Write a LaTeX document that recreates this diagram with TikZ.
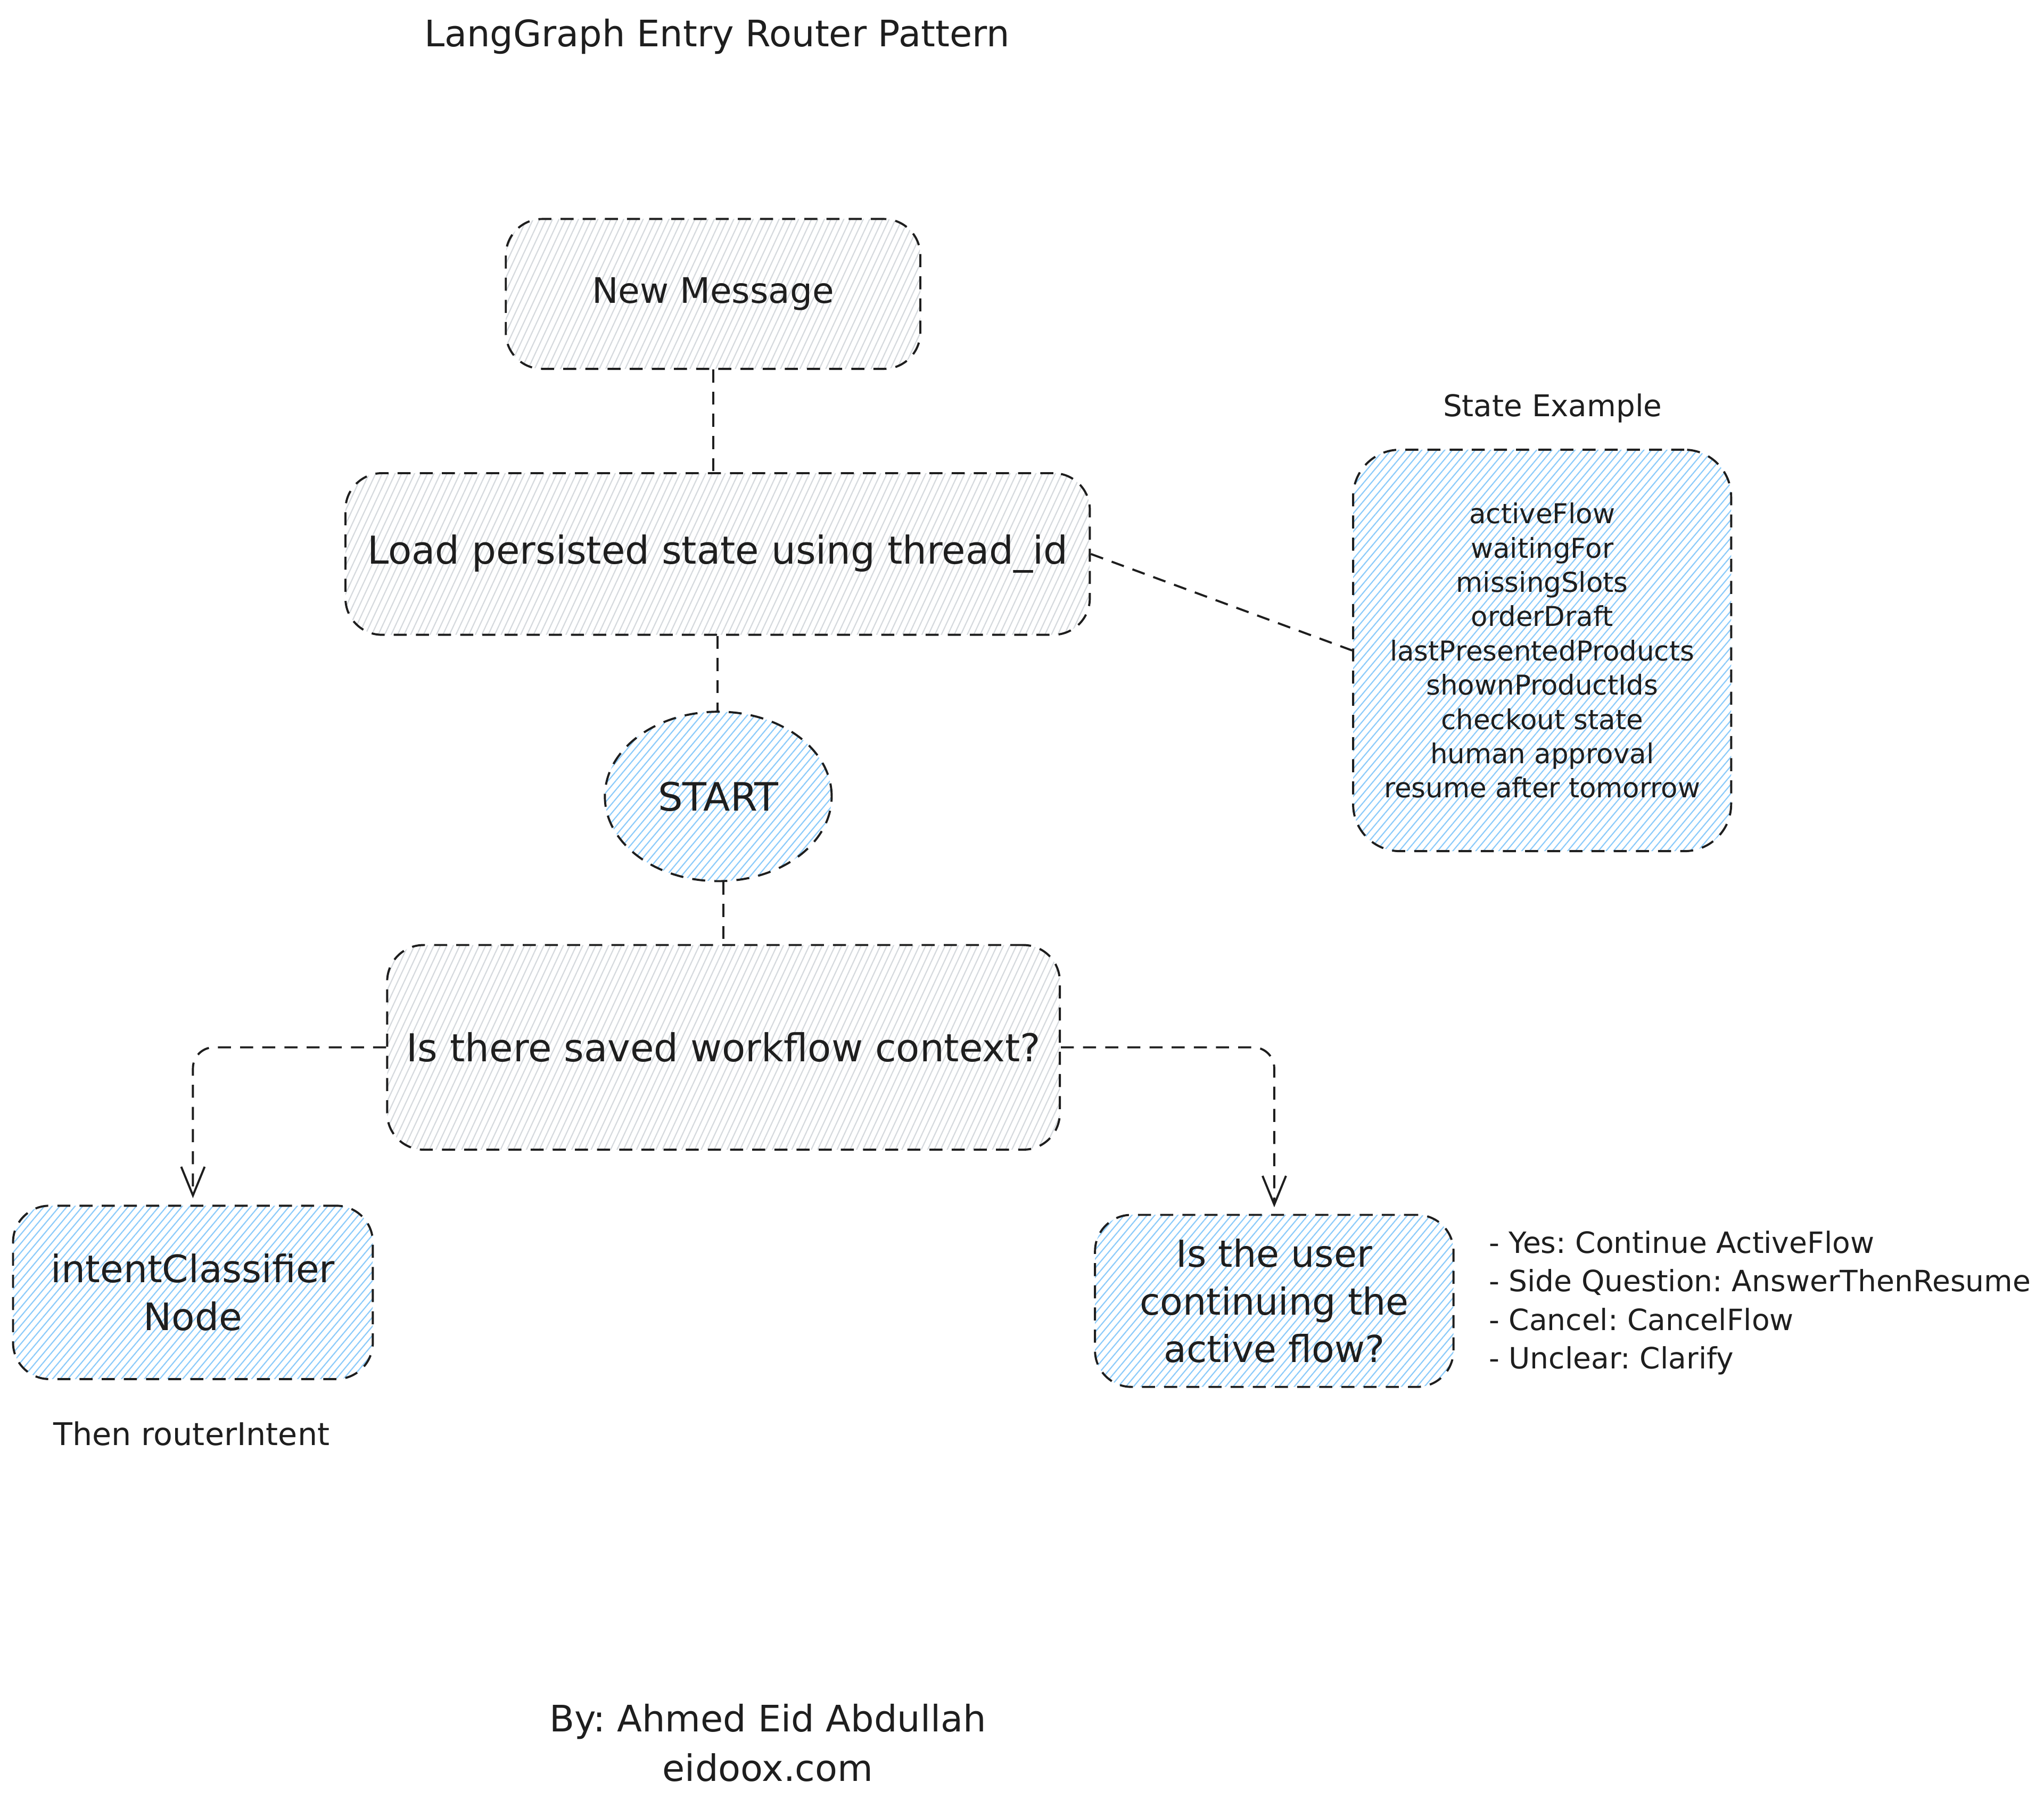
\documentclass[tikz,border=0pt]{standalone}
\usepackage{fontspec}
\setmainfont{DejaVu Sans}
\usetikzlibrary{shapes.geometric,arrows.meta,patterns.meta}
\definecolor{ink}{HTML}{1E1E1E}
\definecolor{hblue}{HTML}{8CCBFA}
\definecolor{hgray}{HTML}{D5D9DD}
\frenchspacing
\tikzset{
  box/.style={draw=ink, line width=1.6pt, dash pattern=on 10pt off 7pt,
    rounded corners=28pt, align=center, text=ink, inner sep=0pt},
  grayfill/.style={pattern={Lines[angle=65,distance=4.5pt,line width=0.9pt]}, pattern color=hgray},
  bluefill/.style={pattern={Lines[angle=50,distance=4.5pt,line width=0.9pt]}, pattern color=hblue},
  link/.style={draw=ink, line width=1.6pt, dash pattern=on 10pt off 7pt},
  arrowlink/.style={link, rounded corners=16pt, -{Straight Barb[length=22pt,width=18pt]}},
  label/.style={text=ink, inner sep=0pt, align=center},
}
\begin{document}
\begin{tikzpicture}[x=1pt,y=-1pt]
\useasboundingbox (0,0) rectangle (1568,1386);

% title
\node[label, font=\fontsize{28}{34}\selectfont] (title) at (550,28) {LangGraph Entry Router Pattern};

% main nodes
\node[box, grayfill, minimum width=318pt, minimum height=115pt, font=\fontsize{27}{34}\selectfont]
  (msg) at (547,225.5) {New Message};
\node[box, grayfill, minimum width=571pt, minimum height=124pt, font=\fontsize{29.5}{36.5}\selectfont]
  (load) at (550.5,425) {Load persisted state using thread\_id};
\node[box, ellipse, bluefill, minimum width=174pt, minimum height=130pt, font=\fontsize{30}{36}\selectfont]
  (start) at (551,611) {START};
\node[box, grayfill, minimum width=516pt, minimum height=157pt, font=\fontsize{29.5}{36.5}\selectfont]
  (decide) at (555,803.5) {Is there saved workflow context?};
\node[box, bluefill, minimum width=276pt, minimum height=133pt, font=\fontsize{29}{36.5}\selectfont]
  (intent) at (148,991.5) {intentClassifier\\Node};
\node[box, bluefill, minimum width=275pt, minimum height=132pt, font=\fontsize{28.5}{36.5}\selectfont]
  (cont) at (977.5,998) {Is the user\\continuing the\\active flow?};
\node[box, bluefill, minimum width=290pt, minimum height=308pt, rounded corners=36pt, font=\fontsize{21}{26.3}\selectfont]
  (state) at (1183,499) {activeFlow\\waitingFor\\missingSlots\\orderDraft\\lastPresentedProducts\\shownProductIds\\checkout state\\human approval\\resume after tomorrow};

% free labels
\node[label, font=\fontsize{23}{28}\selectfont] (stlabel) at (1191,313) {State Example};
\node[label, font=\fontsize{24}{30}\selectfont] (then) at (147,1100) {Then routerIntent};
\node[label, anchor=west, align=left, font=\fontsize{22.5}{29.6}\selectfont] (list) at (1142,999.5)
  {- Yes: Continue ActiveFlow\\- Side Question: AnswerThenResume\\- Cancel: CancelFlow\\- Unclear: Clarify};
\node[label, font=\fontsize{28}{38}\selectfont] (footer) at (589,1337) {By: Ahmed Eid Abdullah\\eidoox.com};

% connectors
\draw[link] (msg.south) -- (msg.south |- load.north);
\draw[link] (load.east) -- (state.west);
\draw[link] (load.south) -- (load.south |- start.north);
\draw[link] (decide.north |- start.south) -- (decide.north);
\draw[arrowlink, shorten >=5pt] (decide.west) -| (intent.north);
\draw[arrowlink, shorten >=5pt] (decide.east) -| (cont.north);
\end{tikzpicture}
\end{document}
